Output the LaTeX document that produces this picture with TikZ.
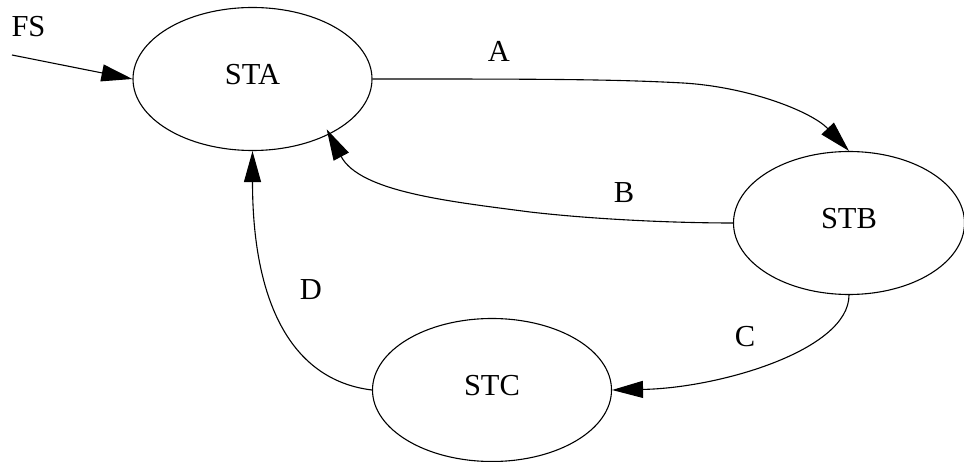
\documentclass[tikz,border=0pt]{standalone}
\usepackage{fontspec}
\setmainfont{Liberation Serif}
\usetikzlibrary{shapes.geometric,arrows.meta}
\tikzset{
  state/.style={draw, ellipse, inner sep=0pt, minimum width=239pt, minimum height=143pt,
    font=\fontsize{30.5}{32}\selectfont, text height=20pt, text depth=9pt},
  lbl/.style={inner sep=0pt, font=\fontsize{30.5}{32}\selectfont},
  edge/.style={draw, line width=1.1pt, -{Triangle[length=31pt,width=17pt]}},
}
\begin{document}
\begin{tikzpicture}[x=1pt,y=-1pt, line width=1.1pt]
\useasboundingbox (0,0) rectangle (964,462);
\node[state] (sta) at (252.5,79) {STA};
\node[state, minimum width=231pt] (stb) at (849,223) {STB};
\node[state] (stc) at (492,390) {STC};
\coordinate (fs0) at (12,55);
\node[lbl] (fs) at (28.5,27) {FS};
\node[lbl] (la) at (499,51) {A};
\node[lbl] (lb) at (624,193) {B};
\node[lbl] (lc) at (745,337) {C};
\node[lbl] (ld) at (311,290) {D};
\draw[edge] (fs0) -- (sta.west);
\draw[edge] (sta.east) .. controls (530,79) and (610,79) .. (683,83)
  .. controls (750,87) and (812,112) .. (stb.north);
\draw[edge] (stb.west) .. controls (680,223) and (600,220) .. (530,212)
  .. controls (450,201.5) and (360,192) .. (326.7,129.3);
\draw[edge] (stb.south) .. controls (849,350) and (720,388) .. (stc.east);
\draw[edge] (stc.west) .. controls (290,380) and (252.5,300) .. (sta.south);
\end{tikzpicture}
\end{document}
